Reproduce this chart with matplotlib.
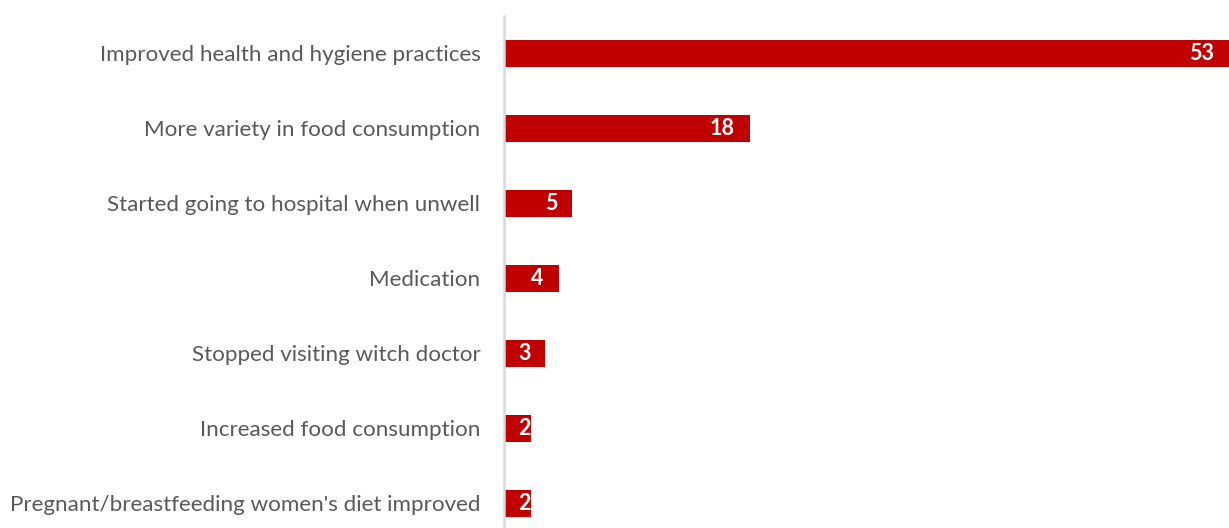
import matplotlib
matplotlib.use("Agg")
import matplotlib.pyplot as plt

categories = [
    "Improved health and hygiene practices",
    "More variety in food consumption",
    "Started going to hospital when unwell",
    "Medication",
    "Stopped visiting witch doctor",
    "Increased food consumption",
    "Pregnant/breastfeeding women's diet improved",
]
values = [53, 18, 5, 4, 3, 2, 2]

BAR_COLOR = "#C00000"
TEXT_COLOR = "#595959"
AXIS_COLOR = "#D9D9D9"

plt.rcParams["font.family"] = ["Lato", "DejaVu Sans"]

W, H, DPI = 1229, 528, 100
fig = plt.figure(figsize=(W / DPI, H / DPI), dpi=DPI)

left_px, right_px = 504, 1229
top_px, step_px = 15.5, 75
n = len(categories)
ax_h = step_px * n
ax = fig.add_axes([left_px / W, 1 - (top_px + ax_h) / H,
                   (right_px - left_px) / W, ax_h / H])

y = list(range(n))
ax.barh(y, values, height=0.36, color=BAR_COLOR, zorder=2)
ax.set_xlim(0, 53)
ax.set_ylim(n - 0.5, -0.5)

ax.set_yticks(y)
ax.set_yticklabels(categories, fontsize=16.1, color=TEXT_COLOR)
ax.tick_params(axis="y", length=0, pad=17)
ax.set_xticks([])

for s in ["top", "right", "bottom"]:
    ax.spines[s].set_visible(False)
ax.spines["left"].set_color(AXIS_COLOR)
ax.spines["left"].set_linewidth(1.8)
ax.spines["left"].set_zorder(3)

px_per_unit = (right_px - left_px) / 53
for yi, v in zip(y, values):
    bar_px = v * px_per_unit
    if bar_px > 45:
        ax.annotate(str(v), (v, yi), xytext=(-11, 0), textcoords="offset points",
                    ha="right", va="center", color="white", fontsize=15.5,
                    fontweight="bold", zorder=4)
    else:
        ax.annotate(str(v), (0, yi), xytext=(10.5, 0), textcoords="offset points",
                    ha="left", va="center", color="white", fontsize=15.5,
                    fontweight="bold", zorder=4)

fig.savefig("out.png", dpi=DPI)
